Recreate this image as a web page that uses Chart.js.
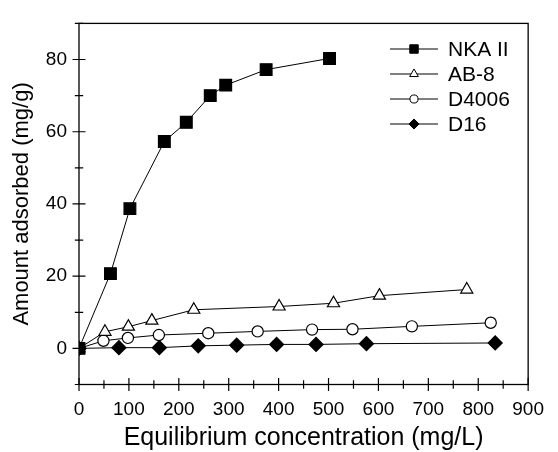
<!DOCTYPE html>
<html>
<head>
<meta charset="utf-8">
<script src="https://cdn.jsdelivr.net/npm/chart.js@4/dist/chart.umd.min.js"></script>
<style>
  html, body { margin: 0; padding: 0; background: #fff; }
  #wrap { width: 558px; height: 452px; }
</style>
</head>
<body>
<div id="wrap"><canvas id="isoChart"></canvas></div>
<script>
// values
const seriesNames = ["NKA II", "AB-8", "D4006", "D16"];
const nkaX = [0, 63, 102, 171, 215, 263, 294, 375, 502];
const nkaY = [0, 20.7, 38.7, 57.3, 62.6, 70.0, 72.9, 77.2, 80.3];
const ab8X = [0, 52, 99, 146, 230, 401, 510, 602, 777];
const ab8Y = [0, 4.6, 6.0, 7.7, 10.7, 11.6, 12.5, 14.6, 16.3];
const d4006X = [0, 49, 98, 160, 259, 358, 467, 548, 667, 825];
const d4006Y = [0, 2.1, 2.9, 3.7, 4.2, 4.7, 5.2, 5.3, 6.1, 7.1];
const d16X = [0, 80, 161, 239, 316, 396, 475, 576, 834];
const d16Y = [0, 0.2, 0.2, 0.7, 0.9, 1.1, 1.1, 1.3, 1.5];
const xTickLabels = [0, 100, 200, 300, 400, 500, 600, 700, 800, 900];
const yTickLabels = [0, 20, 40, 60, 80];

const FONT = "'Liberation Sans', Arial, sans-serif";
const pts = (xs, ys) => xs.map((x, i) => ({ x, y: ys[i] }));

// marker look per series: style, radius, filled
const markers = [
  { style: "rect", r: 8.3, fill: "#000" },
  { style: "triangle", r: 7, fill: "#fff" },
  { style: "circle", r: 5.6, fill: "#fff" },
  { style: "rectRot", r: 7, fill: "#000" },
];

function makeSet(i, data) {
  const m = markers[i];
  return {
    label: seriesNames[i],
    data,
    showLine: true,
    borderColor: "#000",
    borderWidth: 1,
    pointStyle: m.style,
    pointRadius: m.r,
    pointHoverRadius: m.r,
    pointBackgroundColor: m.fill,
    pointBorderColor: "#000",
    pointBorderWidth: 1.2,
  };
}

// box, crossing tick marks and legend
const framePlugin = {
  id: "frame",
  afterDraw(chart) {
    const { ctx, chartArea: a, scales } = chart;
    ctx.save();
    ctx.strokeStyle = "#000";
    ctx.lineWidth = 1.3;
    ctx.strokeRect(a.left, a.top, a.right - a.left, a.bottom - a.top);

    ctx.lineWidth = 1.2;
    ctx.beginPath();
    for (let v = 0; v <= 900; v += 50) {
      const px = scales.x.getPixelForValue(v);
      const len = v % 100 === 0 ? 6.5 : 4.2;
      ctx.moveTo(px, a.bottom - len);
      ctx.lineTo(px, a.bottom + len);
    }
    for (let v = -10; v <= 90; v += 10) {
      const py = scales.y.getPixelForValue(v);
      const len = v % 20 === 0 ? 6.5 : 4.2;
      ctx.moveTo(a.left - len, py);
      ctx.lineTo(a.left + len, py);
    }
    ctx.stroke();

    // legend
    const lx = 390, tx = 448;
    ctx.font = "21px " + FONT;
    ctx.textBaseline = "middle";
    ctx.fillStyle = "#000";
    seriesNames.forEach((name, i) => {
      const y = 49 + i * 25;
      ctx.lineWidth = 1;
      ctx.strokeStyle = "#000";
      ctx.beginPath();
      ctx.moveTo(lx, y);
      ctx.lineTo(lx + 48, y);
      ctx.stroke();
      const m = markers[i];
      ctx.fillStyle = m.fill;
      ctx.lineWidth = 1;
      Chart.helpers.drawPoint(ctx, { pointStyle: m.style, radius: m.r * 0.72, rotation: 0, borderWidth: 1 }, lx + 24, y);
      ctx.fillStyle = "#000";
      ctx.fillText(name, tx, y + 1);
    });
    ctx.restore();
  },
};

const ctx = document.getElementById("isoChart").getContext("2d");
const chart = new Chart(ctx, {
  type: "scatter",
  data: {
    datasets: [
      makeSet(0, pts(nkaX, nkaY)),
      makeSet(1, pts(ab8X, ab8Y)),
      makeSet(2, pts(d4006X, d4006Y)),
      makeSet(3, pts(d16X, d16Y)),
    ],
  },
  options: {
    responsive: true,
    maintainAspectRatio: false,
    animation: false,
    layout: { padding: { top: 9.5, right: 20, left: 0, bottom: 0 } },
    plugins: { legend: { display: false }, tooltip: { enabled: false } },
    scales: {
      x: {
        type: "linear",
        min: 0,
        max: 900,
        afterFit: (s) => { s.height = 67.5; },
        grid: { display: false, drawTicks: false },
        border: { display: false },
        ticks: {
          stepSize: 100,
          padding: 14,
          color: "#000",
          font: { family: FONT, size: 19 },
          maxRotation: 0,
          callback: (v) => (xTickLabels.includes(v) ? String(v) : ""),
        },
        title: {
          display: true,
          text: "Equilibrium concentration (mg/L)",
          color: "#000",
          font: { family: FONT, size: 25, lineHeight: 1 },
          padding: { top: 1, bottom: 1 },
        },
      },
      y: {
        type: "linear",
        min: -10,
        max: 90,
        afterFit: (s) => { s.width = 79; },
        grid: { display: false, drawTicks: false },
        border: { display: false },
        ticks: {
          stepSize: 10,
          padding: 12,
          color: "#000",
          font: { family: FONT, size: 19 },
          callback: (v) => (yTickLabels.includes(v) ? String(v) : ""),
        },
        title: {
          display: true,
          text: "Amount adsorbed (mg/g)",
          color: "#000",
          font: { family: FONT, size: 22, lineHeight: 1 },
          padding: { top: 11, bottom: 11 },
        },
      },
    },
  },
  plugins: [framePlugin],
});
</script>
</body>
</html>
